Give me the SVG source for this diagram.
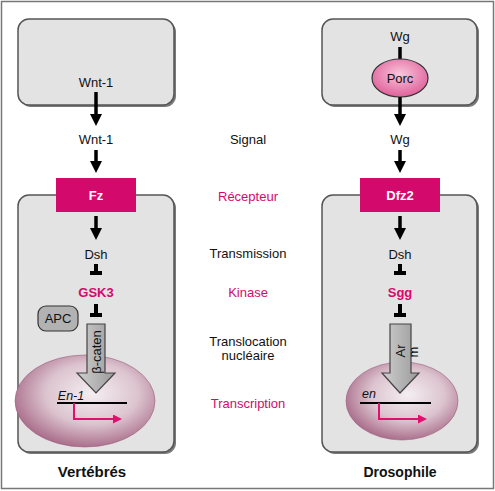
<svg xmlns="http://www.w3.org/2000/svg" width="495" height="491" viewBox="0 0 495 491">
<defs>
<style>
text{font-family:"Liberation Sans",Arial,sans-serif;font-size:13px;fill:#111;text-anchor:middle}
.pk{fill:#d30a6c}
.b{font-weight:bold}
.w{fill:#fff;font-weight:bold}
.box{fill:#e3e3e3;stroke:#555;stroke-width:1.5}
.sh{fill:#7a7a7a}
.ar{stroke:#000;stroke-width:3.5;fill:none}
.tb{stroke:#000;stroke-width:4;fill:none}
.rcp{fill:#d30a6c}
.big{fill:url(#gg);stroke:#444;stroke-width:1.2}
</style>
<marker id="ah" markerWidth="12" markerHeight="12" refX="4" refY="6" orient="auto" markerUnits="userSpaceOnUse"><path d="M0,0 L12,6 L0,12 z" fill="#000"/></marker>
<marker id="ahp" markerWidth="9" markerHeight="9" refX="3" refY="4.5" orient="auto" markerUnits="userSpaceOnUse"><path d="M0,0 L9,4.5 L0,9 z" fill="#e0106e"/></marker>
<radialGradient id="nuc" cx="0.55" cy="0.42" r="0.6">
<stop offset="0" stop-color="#f4eef1"/>
<stop offset="0.55" stop-color="#dcc4cf"/>
<stop offset="1" stop-color="#a86a88"/>
</radialGradient>
<radialGradient id="porc" cx="0.5" cy="0.4" r="0.6">
<stop offset="0" stop-color="#f8c6dc"/>
<stop offset="1" stop-color="#e0609a"/>
</radialGradient>
<linearGradient id="gg" x1="0" y1="0" x2="1" y2="0">
<stop offset="0" stop-color="#cfcfcf"/>
<stop offset="1" stop-color="#9a9a9a"/>
</linearGradient>
</defs>
<rect x="1.5" y="1.5" width="492" height="487" fill="#fff" stroke="#777" stroke-width="1.5"/>

<g id="cell-vert-top">
<rect class="sh" x="20" y="21" width="156" height="86" rx="11"/>
<rect class="box" x="18" y="19" width="156" height="86" rx="11"/>
<text x="96" y="87">Wnt-1</text>
</g>
<g id="cell-dros-top">
<rect class="sh" x="324" y="21" width="155" height="86" rx="11"/>
<rect class="box" x="322" y="19" width="155" height="86" rx="11"/>
<text x="400" y="41">Wg</text>
</g>
<g id="cell-vert-bottom">
<rect class="sh" x="20" y="197" width="156" height="257" rx="11"/>
<rect class="box" x="18" y="195" width="156" height="257" rx="11"/>
</g>
<g id="cell-dros-bottom">
<rect class="sh" x="324" y="197" width="155" height="257" rx="11"/>
<rect class="box" x="322" y="195" width="155" height="257" rx="11"/>
</g>

<g id="nucleus-vert">
<ellipse cx="85" cy="401" rx="70" ry="46" fill="url(#nuc)" stroke="#9a6080" stroke-width="0.6"/>
<text x="71" y="400" style="font-style:italic;font-size:12.5px">En-1</text>
<line x1="57" y1="403" x2="127" y2="403" stroke="#000" stroke-width="2"/>
</g>
<g id="nucleus-dros">
<ellipse cx="402" cy="401" rx="56" ry="39" fill="url(#nuc)" stroke="#9a6080" stroke-width="0.6"/>
<text x="369" y="398" style="font-style:italic;font-size:12.5px">en</text>
<line x1="360" y1="403" x2="431" y2="403" stroke="#000" stroke-width="2"/>
</g>

<g id="porc">
<line x1="400" y1="47" x2="400" y2="60" stroke="#000" stroke-width="3.5"/>
<ellipse cx="400" cy="78" rx="28" ry="19" fill="url(#porc)" stroke="#333" stroke-width="1.2"/>
<text x="400" y="83">Porc</text>
</g>

<g id="fz">
<rect class="rcp" x="56" y="178" width="80" height="34"/>
<text class="w" x="96" y="200">Fz</text>
</g>
<g id="dfz2">
<rect class="rcp" x="360" y="178" width="80" height="34"/>
<text class="w" x="400" y="200">Dfz2</text>
</g>

<g id="labels-vert">
<text x="96" y="144">Wnt-1</text>
<text x="96" y="259">Dsh</text>
<text class="pk b" x="96" y="297">GSK3</text>
</g>
<g id="labels-dros">
<text x="400" y="144">Wg</text>
<text x="400" y="259">Dsh</text>
<text class="pk b" x="400" y="297">Sgg</text>
</g>

<g id="apc">
<rect x="38" y="306" width="40" height="25" rx="8" fill="#b2b2b2" stroke="#333" stroke-width="1.2"/>
<text x="58" y="323">APC</text>
</g>

<g id="bcat">
<path class="big" d="M87,324 H105 V373 H115 L96,393 L77,373 H87 Z"/>
<text transform="translate(101,352) rotate(-90)">β-caten</text>
</g>
<g id="arm">
<path class="big" d="M390,324 H411 V373 H419 L400,393 L382,373 H390 Z"/>
<text transform="translate(405,351) rotate(-90)">Ar</text>
<text transform="translate(418,352) rotate(-90)">m</text>
</g>

<g id="connectors">
<line class="ar" x1="96" y1="92" x2="96" y2="118" marker-end="url(#ah)"/>
<line class="ar" x1="96" y1="150" x2="96" y2="165" marker-end="url(#ah)"/>
<line class="ar" x1="96" y1="216" x2="96" y2="232" marker-end="url(#ah)"/>
<line class="ar" x1="400" y1="97" x2="400" y2="118" marker-end="url(#ah)"/>
<line class="ar" x1="400" y1="150" x2="400" y2="165" marker-end="url(#ah)"/>
<line class="ar" x1="400" y1="216" x2="400" y2="232" marker-end="url(#ah)"/>
<path class="tb" d="M96,264 V273 M90,273 H102"/>
<path class="tb" d="M96,304 V315 M90,315 H102"/>
<path class="tb" d="M400,264 V273 M394,273 H406"/>
<path class="tb" d="M400,304 V315 M394,315 H406"/>
<path d="M74,403 V419 H116" fill="none" stroke="#e0106e" stroke-width="2" marker-end="url(#ahp)"/>
<path d="M379,403 V419 H421" fill="none" stroke="#e0106e" stroke-width="2" marker-end="url(#ahp)"/>
</g>

<g id="legend">
<text x="248" y="144">Signal</text>
<text class="pk" x="248" y="201">Récepteur</text>
<text x="248" y="258">Transmission</text>
<text class="pk" x="248" y="297">Kinase</text>
<text x="248" y="346">Translocation</text>
<text x="248" y="360">nucléaire</text>
<text class="pk" x="248" y="408">Transcription</text>
<text class="b" x="92" y="477" style="font-size:15px">Vertébrés</text>
<text class="b" x="400" y="477" style="font-size:14px">Drosophile</text>
</g>
</svg>
